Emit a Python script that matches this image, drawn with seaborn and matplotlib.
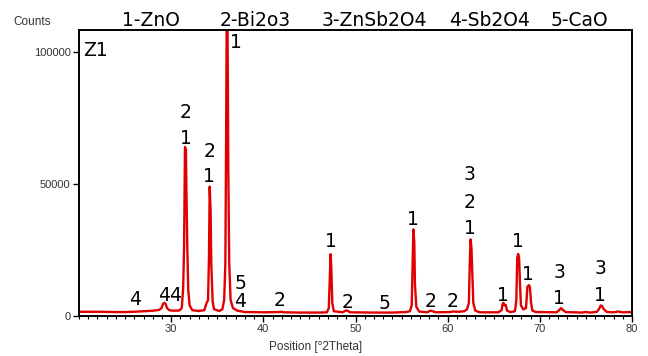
import matplotlib
matplotlib.use("Agg")
import matplotlib.pyplot as plt
import seaborn as sns
import pandas as pd
from matplotlib.ticker import MultipleLocator

# ---- data (2Theta in degrees, intensity in counts) ----
two_theta = [
    20.0, 22.0, 24.0, 25.0, 26.0, 27.0, 28.0, 28.7,
    28.95, 29.1, 29.25, 29.4, 29.55, 29.8, 30.3, 30.9,
    31.15, 31.3, 31.4, 31.5, 31.6, 31.65, 31.75, 31.85, 32.0, 32.3, 33.0, 33.6,
    33.85, 34.0, 34.1, 34.18, 34.28, 34.35, 34.5, 34.65, 35.2, 35.55,
    35.75, 35.88, 35.95, 36.02, 36.12, 36.2, 36.3, 36.45, 36.7, 37.2, 38.0, 40.0,
    41.8, 42.0, 42.2, 44.0, 46.0, 46.9,
    47.1, 47.22, 47.3, 47.38, 47.48, 47.65, 48.6, 48.9, 49.1, 49.4, 52.0, 54.0, 55.5, 55.9,
    56.1, 56.2, 56.28, 56.38, 56.45, 56.6, 56.9, 57.8, 58.1, 58.3, 58.7, 60.3, 60.6, 61.2, 61.8, 62.1,
    62.3, 62.4, 62.48, 62.58, 62.68, 62.78, 63.0, 63.5, 65.5, 65.85,
    65.95, 66.05, 66.15, 66.3, 66.45, 66.8, 67.3,
    67.45, 67.55, 67.65, 67.75, 67.85, 67.95, 68.2, 68.5,
    68.65, 68.8, 68.92, 69.05, 69.2, 69.6, 71.8, 72.1, 72.3, 72.5, 72.8, 74.5, 75.0, 75.5, 76.2,
    76.45, 76.6, 76.75, 76.95, 77.3, 78.0, 78.5, 79.0, 80.0,
]
counts = [
    1600, 1600, 1500, 1500, 1600, 1800, 2000, 2300,
    3000, 4500, 5000, 4600, 3000, 2200, 2000, 2100,
    3000, 10500, 26000, 64000, 63000, 49000, 26000, 10000, 4000, 2200, 1900, 2200,
    5000, 6000, 22000, 49000, 40000, 20000, 5500, 2600, 1900, 2500,
    6000, 20000, 60000, 108000, 108000, 55000, 20000, 6000, 3000, 2000, 1500, 1400,
    1500, 1600, 1400, 1300, 1300, 1400,
    3000, 15000, 23400, 18000, 5000, 1800, 1400, 2000, 2100, 1400, 1300, 1300, 1500, 1800,
    4000, 20000, 32800, 28000, 12000, 3500, 1700, 1400, 2000, 1900, 1400, 1500, 1700, 1600, 1800, 2500,
    5000, 20000, 29000, 26000, 16000, 5000, 2000, 1400, 1400, 2200,
    4500, 5000, 4000, 4200, 2000, 1500, 1800,
    6000, 22000, 23500, 22000, 12000, 4000, 2500, 3000,
    11000, 11700, 11000, 5000, 2000, 1500, 1400, 2200, 3000, 2300, 1500, 1300, 1500, 1300, 1600,
    2800, 4000, 3800, 2500, 1500, 1400, 1700, 1400, 1500,
]

# phase legend along the top
phase_names = ["1-ZnO", "2-Bi2o3", "3-ZnSb2O4", "4-Sb2O4", "5-CaO"]

# peak index labels: (2Theta, counts, text)
label_x = [31.58, 31.58, 34.14, 34.14, 37.0, 37.47, 37.47, 29.87, 26.08, 41.81,
           47.31, 49.11, 53.2, 56.27, 58.19, 60.5, 62.42, 62.42, 62.42,
           66.03, 67.66, 68.68, 72.11, 72.11, 76.53, 76.53]
label_y = [77000, 67300, 62200, 52750, 103500, 12400, 5400, 7950, 6300, 5700,
           28130, 5000, 4800, 36600, 5400, 5400, 53400, 43050, 33200,
           7950, 28130, 15800, 16400, 6700, 18060, 7950]
label_txt = ["2", "1", "2", "1", "1", "5", "4", "44", "4", "2",
             "1", "2", "5", "1", "2", "2", "3", "2", "1",
             "1", "1", "1", "3", "1", "3", "1"]

x_ticks = [30, 40, 50, 60, 70, 80]
y_ticks = [0, 50000, 100000]

# ---- drawing ----
sns.set_theme(style="ticks")
plt.rcParams["font.family"] = ["Liberation Sans", "DejaVu Sans"]

fig = plt.figure(figsize=(6.48, 3.56), dpi=100)
ax = fig.add_axes([79 / 648, 1 - 316 / 356, (632 - 79) / 648, (316 - 30) / 356])

df = pd.DataFrame({"two_theta": two_theta, "counts": counts})
sns.lineplot(data=df, x="two_theta", y="counts", ax=ax, color="#e00000",
             linewidth=1.7, estimator=None, sort=False)

ax.set_xlim(20, 80)
ax.set_ylim(0, 108300)
ax.set_xticks(x_ticks)
ax.set_xticklabels([str(t) for t in x_ticks])
ax.xaxis.set_minor_locator(MultipleLocator(1))
ax.set_yticks(y_ticks)
ax.set_yticklabels([str(t) for t in y_ticks])
ax.set_xlabel("")
ax.set_ylabel("")

for s in ax.spines.values():
    s.set_visible(True)
    s.set_color("black")
    s.set_linewidth(1.4)

ax.tick_params(axis="both", which="major", direction="out", length=4, width=1,
               color="black", labelsize=8, labelcolor="#333333", pad=2)
ax.tick_params(axis="x", which="minor", direction="out", length=2.5, width=0.8,
               color="black")

# labels outside the axes
fig.text(13 / 648, 1 - 22 / 356, "Counts", fontsize=8.5, color="#333333",
         ha="left", va="center")
fig.text(316 / 648, 1 - 347 / 356, "Position [°2Theta]", fontsize=8.5,
         color="#333333", ha="center", va="center")

big_font = ["DejaVu Sans"]
header_x = [151, 255, 374, 490, 579]
for name, px in zip(phase_names, header_x):
    fig.text(px / 648, 1 - 20 / 356, name, fontsize=13.5, family=big_font,
             color="black", ha="center", va="center")

ax.text(0.007, 0.93, "Z1", transform=ax.transAxes, fontsize=13.5,
        family=big_font, color="black", ha="left", va="center")

for x, y, t in zip(label_x, label_y, label_txt):
    ax.text(x, y, t, fontsize=13.5, family=big_font, color="black",
            ha="center", va="center")

fig.savefig("out.png", dpi=100)
